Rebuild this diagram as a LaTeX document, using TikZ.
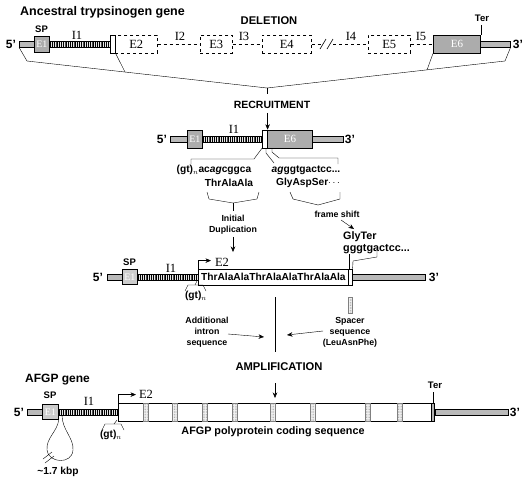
\documentclass[tikz,border=0pt]{standalone}
\usepackage{fontspec}
\setmainfont{Liberation Sans}
\newfontfamily\exfont{Liberation Serif}
\usetikzlibrary{arrows.meta,patterns.meta}

\tikzset{
  lbl/.style={font=\fontsize{12}{13}\selectfont\bfseries, inner sep=0},
  tag/.style={font=\fontsize{9.5}{10}\selectfont\bfseries, inner sep=0},
  head/.style={font=\fontsize{11.2}{13}\selectfont\bfseries, inner sep=0},
  title/.style={font=\fontsize{12.5}{14}\selectfont\bfseries, inner sep=0, anchor=west},
  small/.style={font=\fontsize{8.8}{11}\selectfont\bfseries, align=center, inner sep=0},
  seq/.style={font=\fontsize{10.2}{12}\selectfont\bfseries, inner sep=0},
  ex/.style={font=\exfont\fontsize{12.5}{14}\selectfont, inner sep=0},
  bar/.style={draw, line width=0.6pt, fill=gray!55, minimum height=6, inner sep=0, anchor=west},
  intron/.style={draw, line width=0.6pt, fill=gray!20,
    postaction={pattern={Lines[angle=90,distance=1.8pt,line width=0.6pt]}},
    minimum height=6, inner sep=0, anchor=west},
  exon/.style={draw, line width=0.8pt, fill=gray!65, text=white,
    font=\exfont\fontsize{11}{12}\selectfont, minimum height=18, inner sep=0, anchor=west},
  lost/.style={draw, dashed, line width=0.6pt, font=\exfont\fontsize{12.5}{14}\selectfont,
    minimum height=18, inner sep=0, anchor=west},
  cds/.style={draw, line width=0.8pt, fill=white, minimum height=18, inner sep=0, anchor=west},
  spacer/.style={draw=gray, fill=gray!10,
    postaction={pattern={Dots[distance=1.6pt,radius=0.35pt]}, pattern color=gray},
    minimum width=5, minimum height=18, inner sep=0},
}

\begin{document}
\begin{tikzpicture}[x=1pt, y=-1pt, >={Stealth[length=5.5pt,width=4.5pt]}]
  \useasboundingbox (0,0) rectangle (531,480);

  % Gene ancestrale
  \node[title] (anc) at (20,12) {Ancestral trypsinogen gene};
  \node[head] (del) at (269,21) {DELETION};
  \node[lbl] (p5a) at (11,44) {5'};
  \node[bar, minimum width=15] (u5a) at (19,44) {};
  \node[exon, minimum width=15, minimum height=16, font=\exfont\fontsize{10}{11}\selectfont] (e1a) at (34,44) {E1};
  \node[tag] (spa) at (41.5,29) {SP};
  \node[intron, minimum width=61] (i1a) at (49,44) {};
  \node[ex] (l1a) at (77,35) {I1};
  \node[cds, minimum width=5, line width=0.6pt] (k1) at (110,44) {};
  \node[lost, minimum width=42] (e2a) at (115,44) {E2};
  \node[lost, minimum width=32] (e3a) at (200,44) {E3};
  \node[lost, minimum width=49] (e4a) at (262,44) {E4};
  \node[lost, minimum width=42] (e5a) at (368,44) {E5};
  \node[exon, minimum width=47] (e6a) at (433,44) {E6};
  \node[bar, minimum width=30] (u3a) at (480,44) {};
  \node[lbl] (p3a) at (518,44) {3'};
  \node[tag] (tera) at (482,18) {Ter};
  \node[ex] (l2a) at (180,36) {I2};
  \node[ex] (l3a) at (244,36) {I3};
  \node[ex] (l4a) at (351,36) {I4};
  \node[ex] (l5a) at (421,36) {I5};

  \draw[dashed, line width=0.6pt] (e2a) -- (e3a);
  \draw[dashed, line width=0.6pt] (e3a) -- (e4a);
  \draw[dashed, line width=0.6pt] (e4a) -- (322,44);
  \draw[dashed, line width=0.6pt] (333,44) -- (e5a);
  \draw[line width=0.6pt] (320,49) -- (326,39);
  \draw[line width=0.6pt] (327,49) -- (333,39);
  \draw[dashed, line width=0.6pt] (e5a) -- (e6a);
  \draw (e6a.north east) -- ++(0,-10);

  \draw (u5a.south west) -- (27,61) -- (267,88) -- (505,61) -- (u3a.south east);
  \draw (k1.south east) -- (125,72);
  \draw (e6a.south west) -- (427,70);
  \draw (267,88) -- (267,94);

  % Reclutamento
  \node[head, font=\fontsize{10.5}{13}\selectfont\bfseries] (rec) at (272,105) {RECRUITMENT};
  \node[lbl] (p5b) at (162,139) {5'};
  \node[bar, minimum width=17] (u5b) at (170,139) {};
  \node[exon, minimum width=15, font=\exfont\fontsize{10}{11}\selectfont] (e1b) at (187,139) {E1};
  \node[intron, minimum width=60] (i1b) at (202,139) {};
  \node[ex] (l1b) at (234,129) {I1};
  \node[cds, minimum width=5, line width=0.6pt] (k2) at (262,139) {};
  \node[exon, minimum width=45] (e6b) at (267,139) {E6};
  \node[bar, minimum width=31] (u3b) at (312,139) {};
  \node[lbl] (p3b) at (350,139) {3'};
  \draw[->] (rec.south -| k2.north east) ++(0,4) -- (k2.north east);

  \draw (191,164) -- (191,159) -- (254,159) -- (k2.south west);
  \draw (266,148) -- (266,153) -- (274,163);
  \draw (272,148) -- (272,152) -- (279,158) -- (338,158) -- (338,164);

  \node[seq] (nta) at (214,170) {(gt)$_n$ac\textit{ag}cggca};
  \node[seq] (aaa) at (229,183) {ThrAlaAla};
  \node[seq] (ntb) at (306,170) {\textit{ag}ggtgactcc...};
  \node[seq] (aab) at (308,183) {GlyAspSer$\cdots$};

  \draw (207,192) -- (209,199) -- (233,203) -- (257,199) -- (259,192);
  \draw (233,203) -- (233,211);
  \node[small] (dup) at (233,225) {Initial\\Duplication};
  \coordinate (dupend) at (233,252);
  \draw[->] (dup.south) ++(0,2) -- (dupend);

  \draw (290,192) -- (293,199) -- (318,205) -- (340,199) -- (340,192);
  \node[small] (fs) at (337,214) {frame shift};
  \coordinate (fsend) at (354,229);
  \draw[->] (341,220) -- (fsend);
  \node[seq, font=\fontsize{10.8}{12}\selectfont\bfseries, anchor=west] (glyter) at (343,237) {GlyTer};
  \node[seq, font=\fontsize{10.8}{12}\selectfont\bfseries, anchor=west] (ntc) at (343,249) {gggtgactcc...};

  % Duplicazione
  \node[lbl] (p5c) at (98,277) {5'};
  \node[bar, minimum width=15] (u5c) at (107,277) {};
  \node[exon, fill=gray!40, minimum width=15, minimum height=15, font=\exfont\fontsize{10}{11}\selectfont] (e1c) at (122,277) {E1};
  \node[tag] (spc) at (129.5,262) {SP};
  \node[intron, minimum width=61] (i1c) at (137,277) {};
  \node[ex] (l1c) at (171,268) {I1};
  \node[cds, minimum width=150, minimum height=16, font=\fontsize{10.2}{12}\selectfont\bfseries] (e2c) at (198,277) {ThrAlaAlaThrAlaAlaThrAlaAla};
  \node[cds, minimum width=4, minimum height=16, line width=0.6pt] (k3) at (348,277) {};
  \node[bar, minimum width=73] (u3c) at (352,277) {};
  \node[lbl] (p3c) at (434,277) {3'};
  \draw[->] (e2c.north west) -- ++(0,-8) -- ++(13,0);
  \node[ex] (l2c) at (222,262) {E2};
  \draw (e2c.north east) -- ++(0,-15);
  \draw (k3.north east) -- (353,261) -- (377,257) -- (377,251);

  \draw (185,291) -- (188,285) -- (195,285) -- (197,281);
  \draw (195,285) -- (203,285) -- (206,291);
  \node[seq] (gtc) at (196,296) {(gt)$_n$};

  \draw (275,297) -- (275,352);
  \node[small] (addl) at (207,332) {Additional\\intron\\sequence};
  \coordinate (addend) at (264,337);
  \draw[->] (228,334) -- (addend);
  \node[spacer, minimum width=4, minimum height=16] (spc1) at (350,305) {};
  \node[small] (spt) at (350,332) {Spacer\\sequence\\(LeuAsnPhe)};
  \coordinate (spend) at (287,335);
  \draw[->] (323,331) -- (spend);

  % Amplificazione
  \node[head] (amp) at (279,367) {AMPLIFICATION};
  \coordinate (ampend) at (275,398);
  \draw[->] (275,383) -- (ampend);

  % Gene AFGP
  \node[title, font=\fontsize{12}{14}\selectfont\bfseries] (afgp) at (25,380) {AFGP gene};
  \node[lbl] (p5d) at (19,412) {5'};
  \node[bar, minimum width=15] (u5d) at (27,412) {};
  \node[exon, fill=gray!40, minimum width=16, minimum height=15, font=\exfont\fontsize{10}{11}\selectfont] (e1d) at (42,412) {E1};
  \node[tag] (spd) at (50,395) {SP};
  \node[intron, minimum width=60] (i1d) at (58,412) {};
  \node[ex] (l1d) at (89,401) {I1};
  \node[cds, minimum width=315] (e2d) at (118,412) {};
  \node[spacer] (s1) at (146,412) {};
  \node[spacer] (s2) at (175,412) {};
  \node[spacer] (s3) at (205,412) {};
  \node[spacer] (s4) at (235,412) {};
  \node[spacer] (s5) at (273,412) {};
  \node[spacer] (s6) at (313,412) {};
  \node[spacer] (s7) at (368,412) {};
  \node[spacer] (s8) at (400,412) {};
  \node[draw, fill=gray!60, minimum width=3, minimum height=18, inner sep=0] (k4) at (433,412) {};
  \node[bar, minimum width=73] (u3d) at (435,412) {};
  \node[lbl] (p3d) at (515,412) {3'};
  \node[tag] (terd) at (435,385) {Ter};
  \draw (k4.north) -- ++(0,-11);
  \draw[->] (e2d.north west) -- ++(0,-8) -- ++(18,0);
  \node[ex] (l2d) at (146,394) {E2};

  \draw (102,430) -- (105,424) -- (114,424) -- (117,420);
  \draw (114,424) -- (121,424) -- (124,430);
  \node[seq] (gtd) at (111,435) {(gt)$_n$};
  \node[seq, font=\fontsize{10.8}{12}\selectfont\bfseries] (afgpcds) at (273,432) {AFGP polyprotein coding sequence};

  \draw (e1d.south east) .. controls (57,432) and (46,438) .. (47,450)
    .. controls (48,463) and (72,465) .. (73,450)
    .. controls (74,438) and (62,430) .. (62,415);
  \draw (43,459) -- (52,452);
  \draw (45,463) -- (54,456);
  \node[seq] (kbp) at (58,472) {\textasciitilde1.7 kbp};
\end{tikzpicture}
\end{document}
